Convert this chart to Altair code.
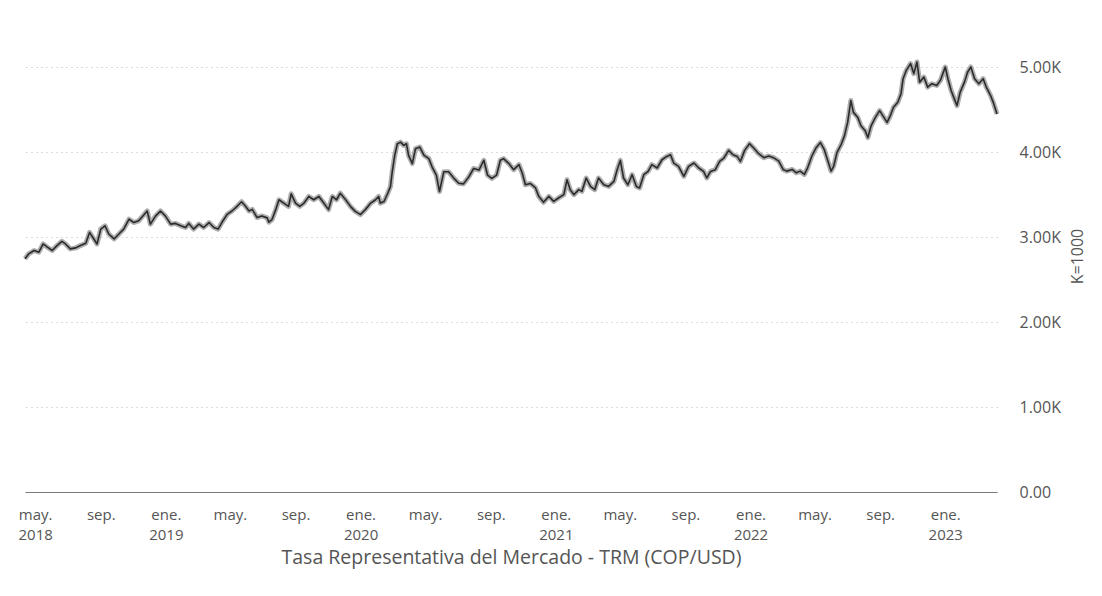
import altair as alt
import pandas as pd

dates = [
    "2018-04-12", "2018-04-19", "2018-04-29", "2018-05-08", "2018-05-16", "2018-05-24", "2018-06-02", "2018-06-11", "2018-06-20", "2018-06-27",
    "2018-07-06", "2018-07-16", "2018-07-25", "2018-08-04", "2018-08-11", "2018-08-19", "2018-08-25", "2018-09-01", "2018-09-09", "2018-09-16",
    "2018-09-26", "2018-10-05", "2018-10-14", "2018-10-24", "2018-11-02", "2018-11-11", "2018-11-19", "2018-11-27", "2018-12-03", "2018-12-13",
    "2018-12-22", "2018-12-31", "2019-01-10", "2019-01-19", "2019-01-29", "2019-02-07", "2019-02-13", "2019-02-22", "2019-03-04", "2019-03-13",
    "2019-03-23", "2019-04-01", "2019-04-09", "2019-04-16", "2019-04-26", "2019-05-05", "2019-05-15", "2019-05-23", "2019-05-30", "2019-06-06",
    "2019-06-12", "2019-06-21", "2019-06-30", "2019-07-10",
    "2019-07-13", "2019-07-19", "2019-07-26", "2019-08-01", "2019-08-10", "2019-08-19", "2019-08-24", "2019-09-01", "2019-09-09", "2019-09-17",
    "2019-09-26", "2019-10-05", "2019-10-15", "2019-10-24", "2019-11-02", "2019-11-09", "2019-11-17", "2019-11-24", "2019-12-04", "2019-12-13",
    "2019-12-22", "2020-01-01", "2020-01-10", "2020-01-20", "2020-01-29", "2020-02-04", "2020-02-07", "2020-02-14", "2020-02-21", "2020-02-26",
    "2020-02-29", "2020-03-05", "2020-03-10", "2020-03-16", "2020-03-22", "2020-03-27", "2020-03-31", "2020-04-07", "2020-04-13", "2020-04-21",
    "2020-04-29", "2020-05-08", "2020-05-14", "2020-05-22", "2020-05-28", "2020-06-05", "2020-06-14", "2020-06-24", "2020-07-03", "2020-07-12",
    "2020-07-22", "2020-07-31", "2020-08-10", "2020-08-19", "2020-08-26", "2020-09-03", "2020-09-12", "2020-09-19", "2020-09-25", "2020-10-05",
    "2020-10-14", "2020-10-24", "2020-10-30", "2020-11-05", "2020-11-14", "2020-11-24", "2020-11-30", "2020-12-09", "2020-12-19", "2020-12-28",
    "2021-01-06", "2021-01-16", "2021-01-22", "2021-01-28", "2021-02-04", "2021-02-13", "2021-02-19", "2021-02-27", "2021-03-07", "2021-03-15",
    "2021-03-22", "2021-04-01", "2021-04-10", "2021-04-20", "2021-04-26", "2021-05-02", "2021-05-08", "2021-05-16", "2021-05-24", "2021-06-01",
    "2021-06-07", "2021-06-15", "2021-06-23", "2021-06-30", "2021-07-10", "2021-07-19", "2021-07-28", "2021-08-04", "2021-08-10", "2021-08-19",
    "2021-08-29", "2021-09-07", "2021-09-17", "2021-09-26", "2021-10-05", "2021-10-11", "2021-10-18", "2021-10-27", "2021-11-04", "2021-11-12",
    "2021-11-21", "2021-11-29", "2021-12-07", "2021-12-13", "2021-12-21", "2021-12-30", "2022-01-07", "2022-01-15",
    "2022-01-26", "2022-02-04", "2022-02-13", "2022-02-23", "2022-03-03", "2022-03-10", "2022-03-20", "2022-03-28", "2022-04-04", "2022-04-12",
    "2022-04-18", "2022-04-26", "2022-05-04", "2022-05-12", "2022-05-19", "2022-05-26", "2022-06-01", "2022-06-06", "2022-06-12", "2022-06-20",
    "2022-06-26", "2022-07-02", "2022-07-08", "2022-07-13", "2022-07-21", "2022-07-27", "2022-08-04", "2022-08-09", "2022-08-15", "2022-08-23",
    "2022-08-31", "2022-09-08", "2022-09-14", "2022-09-20", "2022-09-26", "2022-10-04", "2022-10-10", "2022-10-14", "2022-10-20", "2022-10-28",
    "2022-11-03", "2022-11-09", "2022-11-14", "2022-11-22", "2022-11-29", "2022-12-07", "2022-12-16", "2022-12-23", "2023-01-01", "2023-01-06",
    "2023-01-12", "2023-01-18", "2023-01-23", "2023-01-29", "2023-02-06", "2023-02-12", "2023-02-18", "2023-02-25", "2023-03-05", "2023-03-13",
    "2023-03-19", "2023-03-27", "2023-04-02", "2023-04-08",
]

values = [
    2744, 2802, 2841, 2821, 2918, 2880, 2841, 2899, 2949, 2918,
    2860, 2872, 2899, 2926, 3054, 2977, 2918, 3093, 3132, 3035,
    2977, 3035, 3093, 3209, 3170, 3190, 3248, 3306, 3151, 3248,
    3306, 3248, 3151, 3160, 3132, 3112, 3160, 3093, 3151, 3112,
    3170, 3112, 3093, 3170, 3267, 3306, 3364, 3415, 3364, 3306,
    3325, 3229, 3248, 3225,
    3174, 3205, 3322, 3438, 3399, 3360, 3508, 3399, 3360, 3399,
    3477, 3438, 3477, 3399, 3322, 3477, 3438, 3515, 3438, 3360,
    3302, 3264, 3322, 3399, 3438, 3477, 3399, 3418, 3515, 3593,
    3748, 3961, 4097, 4116, 4078, 4097, 3961, 3864, 4039, 4058,
    3961, 3922, 3826, 3729, 3535, 3767, 3767, 3690, 3632, 3625,
    3709, 3806, 3787, 3903, 3729, 3690, 3729, 3903, 3922, 3864,
    3792, 3851, 3753, 3615, 3630, 3577, 3478, 3408, 3478, 3419,
    3459, 3498, 3674, 3557, 3498, 3557, 3537, 3694, 3595, 3557,
    3694, 3615, 3595, 3655, 3792, 3901, 3694, 3615, 3733, 3595,
    3577, 3733, 3772, 3851, 3812, 3909, 3948, 3968, 3870, 3831,
    3713, 3831, 3870, 3812, 3772, 3694, 3772, 3792, 3890, 3929,
    4019, 3968, 3948, 3890, 4019, 4098, 4047, 3988,
    3933, 3953, 3933, 3893, 3795, 3775, 3795, 3755, 3775, 3736,
    3814, 3953, 4051, 4111, 4031, 3893, 3775, 3835, 3992, 4091,
    4190, 4348, 4605, 4466, 4407, 4308, 4249, 4170, 4308, 4407,
    4486, 4407, 4348, 4427, 4526, 4585, 4684, 4862, 4961, 5040,
    4922, 5059, 4822, 4881, 4763, 4803, 4783, 4843, 5000, 4862,
    4724, 4625, 4546, 4704, 4822, 4941, 5000, 4862, 4803, 4862,
    4763, 4664, 4566, 4447,
]

x_domain = ["2018-04-12", "2023-04-08"]
x_tick_dates = [
    "2018-05-01", "2018-09-01", "2019-01-01", "2019-05-01", "2019-09-01",
    "2020-01-01", "2020-05-01", "2020-09-01", "2021-01-01", "2021-05-01",
    "2021-09-01", "2022-01-01", "2022-05-01", "2022-09-01", "2023-01-01",
]
y_ticks = [0, 1000, 2000, 3000, 4000, 5000]
y_domain = [0, 5200]

x_title = "Tasa Representativa del Mercado - TRM (COP/USD)"
y_title = "K=1000"

FONT = "Open Sans"
TXT = "#555555"


def ms(s):
    return int(pd.Timestamp(s, tz="UTC").timestamp() * 1000)


df = pd.DataFrame({"fecha": dates, "trm": values})

label_expr_x = (
    "utcFormat(datum.value,'%m')=='01' ? ['ene.', utcFormat(datum.value,'%Y')] : "
    "(utcFormat(datum.value,'%m')=='05' ? "
    "(utcFormat(datum.value,'%Y')=='2018' ? ['may.', '2018'] : 'may.') : 'sep.')"
)
label_expr_y = "datum.value == 0 ? '0.00' : format(datum.value/1000, '.2f') + 'K'"

x_enc = alt.X(
    "fecha:T",
    scale=alt.Scale(type="utc", domain=[ms(d) for d in x_domain], nice=False),
    axis=alt.Axis(
        values=[ms(d) for d in x_tick_dates],
        labelExpr=label_expr_x,
        grid=False,
        ticks=False,
        domain=True,
        domainColor="#7a7a7a",
        domainWidth=1,
        labelPadding=15,
        labelFontSize=15,
        labelColor=TXT,
        labelFont=FONT,
        labelLineHeight=20,
        labelFlush=False,
        labelOverlap=False,
        title=x_title,
        titleFont=FONT,
        titleFontSize=19.5,
        titleFontWeight="normal",
        titleColor=TXT,
        titlePadding=6,
    ),
)

y_enc = alt.Y(
    "trm:Q",
    scale=alt.Scale(domain=y_domain, nice=False, zero=True),
    axis=alt.Axis(
        orient="right",
        values=y_ticks,
        labelExpr=label_expr_y,
        grid=True,
        gridColor="#b8b8b8",
        gridDash=[1, 4],
        gridWidth=1,
        domain=False,
        ticks=False,
        labelPadding=22,
        labelFontSize=16,
        labelColor=TXT,
        labelFont=FONT,
        title=y_title,
        titleFont=FONT,
        titleFontSize=16,
        titleFontWeight="normal",
        titleColor=TXT,
        titleAngle=270,
        titleAlign="center",
        titleBaseline="middle",
        titleX=80,
        titleY=206,
    ),
)

base = alt.Chart(df).encode(x=x_enc, y=y_enc)

halo = base.mark_line(color="#9a9a9a", strokeWidth=5, opacity=0.8, strokeJoin="round")
core = base.mark_line(color="#2b2b2b", strokeWidth=1.6, strokeJoin="round")

chart = (
    alt.layer(halo, core)
    .properties(
        width=972,
        height=442,
        padding={"left": 9, "top": 42, "right": 5, "bottom": 6},
        background="white",
    )
    .configure_view(stroke=None)
)

chart.save("out.html", embed_options={"renderer": "svg", "actions": False})
